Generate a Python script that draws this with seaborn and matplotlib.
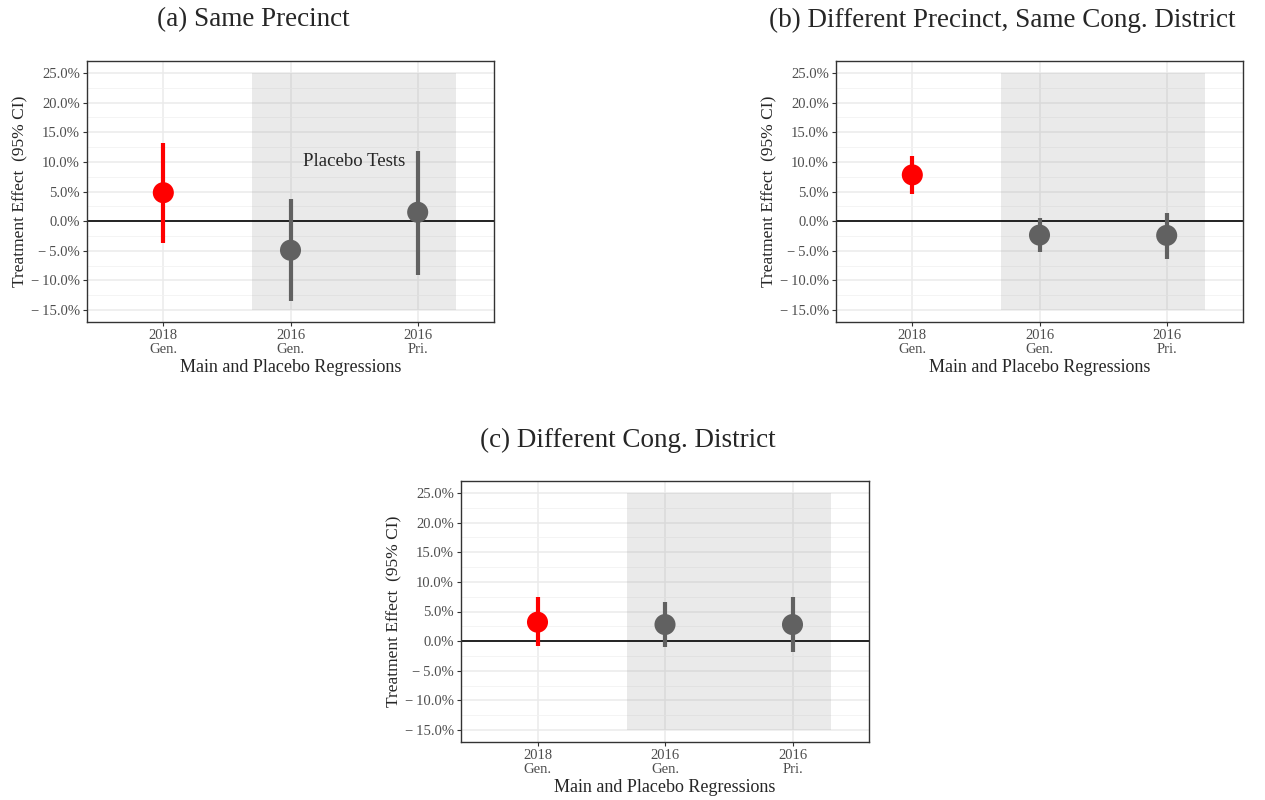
import matplotlib
matplotlib.use("Agg")
import matplotlib.pyplot as plt
import seaborn as sns
import numpy as np
import pandas as pd

# ---- data ----
categories = ["2018\nGen.", "2016\nGen.", "2016\nPri."]
panel_titles = ["(a) Same Precinct",
                "(b) Different Precinct, Same Cong. District",
                "(c) Different Cong. District"]
estimates_a = [4.8, -4.9, 1.5]
lower_a = [-3.7, -13.5, -9.1]
upper_a = [13.2, 3.7, 11.9]
estimates_b = [7.8, -2.35, -2.4]
lower_b = [4.5, -5.2, -6.3]
upper_b = [11.0, 0.45, 1.4]
estimates_c = [3.2, 2.8, 2.8]
lower_c = [-0.9, -1.0, -1.9]
upper_c = [7.4, 6.6, 7.5]
roles = ["Main", "Placebo", "Placebo"]
y_ticks = [-15, -10, -5, 0, 5, 10, 15, 20, 25]

sns.set_theme(style="white")
plt.rcParams['font.family'] = ['Liberation Serif', 'DejaVu Serif']

fig = plt.figure(figsize=(12.65, 8), dpi=100)
W, H = 1265, 800

def add_ax(left, top, right, bottom):
    return fig.add_axes([left / W, 1 - bottom / H, (right - left) / W, (bottom - top) / H])

axes_px = [(87, 61, 494, 322), (836, 61, 1243, 322), (461, 481, 869, 742)]
title_pos = [(253, 20), (1002, 20), (628, 440)]
data = [(estimates_a, lower_a, upper_a),
        (estimates_b, lower_b, upper_b),
        (estimates_c, lower_c, upper_c)]

palette = {"Main": "#FF0000", "Placebo": "#616161"}

def fmt(v):
    s = f"{abs(v):.1f}%"
    return ("\u2212\u2009" + s) if v < 0 else s

for i, (box, tp, (est, lo, hi)) in enumerate(zip(axes_px, title_pos, data)):
    ax = add_ax(*box)
    df = pd.DataFrame({"x": np.arange(len(categories)), "est": est, "lo": lo,
                       "hi": hi, "role": roles})
    # grid
    ax.set_yticks(np.arange(-12.5, 25, 5), minor=True)
    ax.grid(True, which="major", axis="both", color="#EBEBEB", lw=1.1, zorder=0)
    ax.grid(True, which="minor", axis="y", color="#F2F2F2", lw=0.6, zorder=0)
    ax.set_axisbelow(True)
    # placebo region
    ax.fill_between([0.7, 2.3], -15, 25, color="#999999", alpha=0.2, lw=0, zorder=1)
    ax.axhline(0, color="black", lw=1.2, zorder=2)
    for _, r in df.iterrows():
        ax.vlines(r["x"], r["lo"], r["hi"], color=palette[r["role"]], lw=3, zorder=3)
    sns.scatterplot(data=df, x="x", y="est", hue="role", palette=palette, s=230,
                    edgecolor="none", legend=False, ax=ax, zorder=4)
    ax.set_xlim(-0.6, 2.6)
    ax.set_ylim(-17, 27)
    ax.set_xticks(range(len(categories)))
    ax.set_xticklabels(categories, fontsize=10.5, color="#4D4D4D", linespacing=1.1)
    ax.set_yticks(y_ticks)
    ax.set_yticklabels([fmt(v) for v in y_ticks], fontsize=10.5, color="#4D4D4D")
    ax.tick_params(axis="both", which="major", length=3, width=0.8, color="#333333",
                   bottom=True, left=True, pad=2)
    ax.tick_params(axis="y", which="minor", length=0)
    for sp in ax.spines.values():
        sp.set_color("#333333")
        sp.set_linewidth(1.0)
    ax.set_xlabel("Main and Placebo Regressions", fontsize=13, labelpad=2)
    ax.set_ylabel("Treatment Effect  (95% CI)", fontsize=12.5, labelpad=1.5)
    if i == 0:
        ax.text(1.5, 10, "Placebo Tests", ha="center", va="center", fontsize=13.5, zorder=5)
    fig.text(tp[0] / W, 1 - tp[1] / H, panel_titles[i], ha="center", va="center",
             fontsize=19.5)

fig.savefig("out.png", dpi=100)
